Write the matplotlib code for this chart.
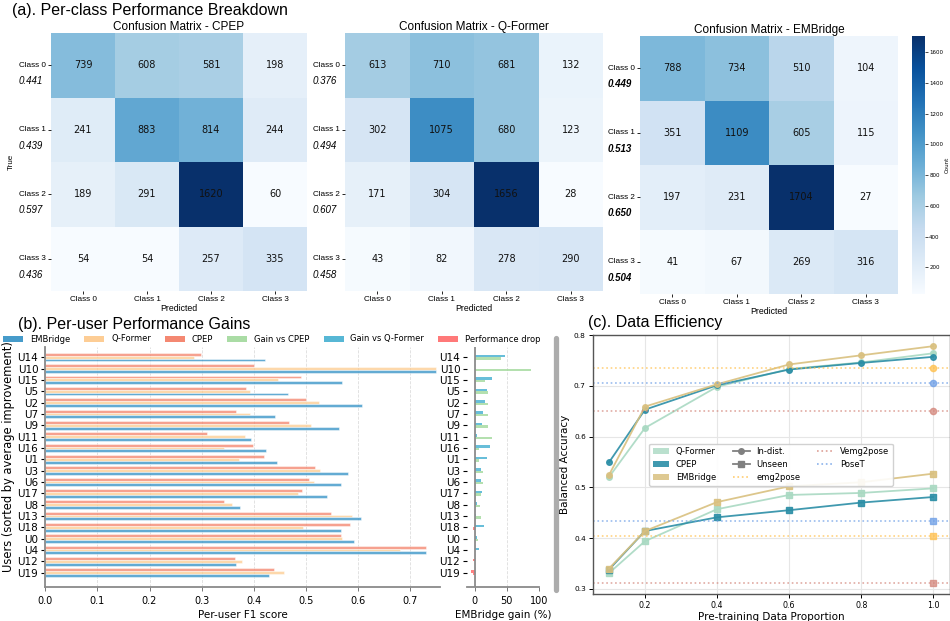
import numpy as np
import matplotlib
matplotlib.use('Agg')
import matplotlib.pyplot as plt
import seaborn as sns
from matplotlib.patches import Patch
from matplotlib.lines import Line2D

plt.rcParams['font.family'] = 'DejaVu Sans'
TITLE_FONT = 'Liberation Sans'

#================================
# (a) confusion matrices, rows = true class, cols = predicted class
classes = ['Class 0', 'Class 1', 'Class 2', 'Class 3']
cm_cpep = [[739, 608, 581, 198],
           [241, 883, 814, 244],
           [189, 291, 1620, 60],
           [54, 54, 257, 335]]
cm_qformer = [[613, 710, 681, 132],
              [302, 1075, 680, 123],
              [171, 304, 1656, 28],
              [43, 82, 278, 290]]
cm_embridge = [[788, 734, 510, 104],
               [351, 1109, 605, 115],
               [197, 231, 1704, 27],
               [41, 67, 269, 316]]
acc_cpep = [0.441, 0.439, 0.597, 0.436]
acc_qformer = [0.376, 0.494, 0.607, 0.458]
acc_embridge = [0.449, 0.513, 0.650, 0.504]

# (b) per-user F1, users sorted by average improvement
users = ['U14', 'U10', 'U15', 'U5', 'U2', 'U7', 'U9', 'U11', 'U16', 'U1',
         'U3', 'U6', 'U17', 'U8', 'U13', 'U18', 'U0', 'U4', 'U12', 'U19']
f1_cpep = [0.298, 0.400, 0.490, 0.386, 0.500, 0.366, 0.468, 0.310, 0.398, 0.419,
           0.517, 0.505, 0.493, 0.343, 0.548, 0.585, 0.567, 0.731, 0.364, 0.439]
f1_qformer = [0.286, 0.749, 0.447, 0.392, 0.525, 0.392, 0.510, 0.383, 0.343, 0.372,
              0.527, 0.516, 0.485, 0.359, 0.589, 0.495, 0.569, 0.681, 0.377, 0.457]
f1_embridge = [0.421, 0.749, 0.569, 0.465, 0.607, 0.441, 0.564, 0.395, 0.423, 0.444,
               0.581, 0.567, 0.540, 0.373, 0.605, 0.567, 0.592, 0.731, 0.366, 0.429]

# (c) data efficiency
proportions = [0.1, 0.2, 0.4, 0.6, 0.8, 1.0]
indist_qformer = [0.520, 0.617, 0.698, 0.733, 0.746, 0.764]
indist_cpep = [0.549, 0.653, 0.701, 0.732, 0.745, 0.757]
indist_embridge = [0.524, 0.659, 0.703, 0.742, 0.760, 0.778]
unseen_qformer = [0.331, 0.394, 0.457, 0.485, 0.489, 0.498]
unseen_cpep = [0.338, 0.414, 0.441, 0.455, 0.470, 0.481]
unseen_embridge = [0.340, 0.414, 0.471, 0.502, 0.510, 0.527]
baseline_names = ['emg2pose', 'Vemg2pose', 'PoseT']
baseline_indist = [0.735, 0.650, 0.705]
baseline_unseen = [0.405, 0.312, 0.434]

#================================
# colours
c_emb_bar, c_qf_bar, c_cpep_bar = '#3c96c8', '#fdcb8f', '#f4826a'
c_gain_cpep, c_gain_qf, c_drop = '#a1d99b', '#4eb3d3', '#ff6b6b'
c_qf_line, c_cpep_line, c_emb_line = '#a9d9c2', '#2b8ea6', '#d9c07f'
c_base = {'emg2pose': '#ffc04d', 'Vemg2pose': '#d4877c', 'PoseT': '#6d9ee6'}

W, H = 950, 621
fig = plt.figure(figsize=(W / 100, H / 100), dpi=100)


def px_axes(x0, y0, x1, y1):
    # axes from pixel box (top-left origin)
    return fig.add_axes([x0 / W, 1 - y1 / H, (x1 - x0) / W, (y1 - y0) / H])


#================================
# (a) Per-class breakdown
fig.text(12 / W, 1 - 10 / H, '(a). Per-class Performance Breakdown',
         fontsize=11.5, family=TITLE_FONT, ha='left', va='center')

cm_axes = [px_axes(51, 33, 307, 291), px_axes(345, 33, 603, 291), px_axes(640, 36, 898, 294)]
cax = px_axes(912, 36, 925, 294)
matrices = [cm_cpep, cm_qformer, cm_embridge]
accs = [acc_cpep, acc_qformer, acc_embridge]
names = ['CPEP', 'Q-Former', 'EMBridge']

for i, ax in enumerate(cm_axes):
    last = i == 2
    sns.heatmap(np.array(matrices[i]), annot=True, fmt='d', cmap='Blues', ax=ax,
                cbar=last, cbar_ax=cax if last else None,
                annot_kws={'size': 7, 'color': '#111111'},
                xticklabels=classes, yticklabels=classes)
    ax.set_title(f'Confusion Matrix - {names[i]}', fontsize=8.5, family=TITLE_FONT, pad=1.5)
    ax.set_xticklabels(classes, fontsize=5.9, family=TITLE_FONT, rotation=0)
    ax.set_yticklabels(classes, fontsize=5.9, family=TITLE_FONT, rotation=0)
    ax.tick_params(length=2, width=0.6, pad=1.5)
    ax.set_xlabel('Predicted', fontsize=6.3, family=TITLE_FONT, labelpad=1)
    if i == 0:
        ax.set_ylabel('True', fontsize=5.8, family=TITLE_FONT)
        ax.yaxis.set_label_coords(-0.143, 0.5)
    # per-class score under each row label
    for r, a in enumerate(accs[i]):
        ax.text(-0.12, r + 0.75, f'{a:.3f}', ha='right', va='center', fontsize=7,
                style='italic', family=TITLE_FONT, weight='bold' if last else 'normal')

cax.tick_params(labelsize=4, length=2, width=0.5, pad=1)
cax.set_ylabel('Count', fontsize=4, labelpad=1)

#================================
# (b) Per-user gains
fig.text(18 / W, 1 - 324 / H, '(b). Per-user Performance Gains',
         fontsize=11.5, family=TITLE_FONT, ha='left', va='center')

ax_b = px_axes(45.3, 347, 440, 586.7)
y = np.arange(len(users))
h = 0.25
ax_b.barh(y - h, f1_cpep, height=h, color=c_cpep_bar, alpha=0.75, edgecolor='white', linewidth=0.4)
ax_b.barh(y, f1_qformer, height=h, color=c_qf_bar, alpha=0.75, edgecolor='white', linewidth=0.4)
ax_b.barh(y + h, f1_embridge, height=h, color=c_emb_bar, alpha=0.8, edgecolor='white', linewidth=0.4)
ax_b.set_yticks(y)
ax_b.set_yticklabels(users, fontsize=7.5)
ax_b.set_ylim(20.23, -0.9)
ax_b.set_xlim(0, max(max(f1_embridge), max(f1_qformer), max(f1_cpep)) * 1.011)
ax_b.set_xticks(np.arange(0, 0.75, 0.1))
ax_b.tick_params(axis='x', labelsize=7, length=3, width=0.7, color='#777777')
ax_b.tick_params(axis='y', length=3, width=0.8, pad=2)
ax_b.set_xlabel('Per-user F1 score', fontsize=7.5, labelpad=3)
ax_b.set_ylabel('Users (sorted by average improvement)', fontsize=8.3)
ax_b.yaxis.set_label_coords(-0.078, 0.545)
ax_b.grid(axis='x', linestyle='--', color='#dddddd', linewidth=0.6)
ax_b.set_axisbelow(True)
for s in ['top', 'right']:
    ax_b.spines[s].set_visible(False)
for s in ['left', 'bottom']:
    ax_b.spines[s].set_color('#8a8a8a')
    ax_b.spines[s].set_linewidth(1.3)

# relative gain of EMBridge over each baseline
emb = np.array(f1_embridge)
gain_cpep = (emb / np.array(f1_cpep) - 1) * 100
gain_qf = (emb / np.array(f1_qformer) - 1) * 100

ax_g = px_axes(467.3, 347, 539.0, 586.7)
gh = 0.22
ax_g.barh(y - gh / 2, gain_qf, height=gh,
          color=[c_drop if g < 0 else c_gain_qf for g in gain_qf], alpha=0.85)
ax_g.barh(y + gh / 2, gain_cpep, height=gh,
          color=[c_drop if g < 0 else c_gain_cpep for g in gain_cpep], alpha=0.8)
ax_g.axvline(0, color='#8c8c8c', linewidth=1.3)
ax_g.set_yticks(y)
ax_g.set_yticklabels(users, fontsize=7.5)
ax_g.set_ylim(20.23, -0.9)
ax_g.set_xlim(-11.5, 100)
ax_g.set_xticks([0, 50, 100])
ax_g.tick_params(axis='x', labelsize=7, length=3, width=0.7, color='#777777')
ax_g.tick_params(axis='y', length=3, width=0.8, pad=2)
ax_g.set_xlabel('EMBridge gain (%)', fontsize=7.5, labelpad=3)
ax_g.grid(axis='x', linestyle='--', color='#dddddd', linewidth=0.6)
ax_g.set_axisbelow(True)
for s in ['top', 'right', 'left']:
    ax_g.spines[s].set_visible(False)
ax_g.spines['bottom'].set_color('#8a8a8a')
ax_g.spines['bottom'].set_linewidth(1.3)

# separator between (b) and (c)
fig.add_artist(Line2D([556 / W, 556 / W], [1 - 590 / H, 1 - 338 / H], color='#a3a3a3',
                      linewidth=3.8, solid_capstyle='round', alpha=0.9))

legend_b = [
    (Patch(facecolor=c_emb_bar, alpha=0.95), 'EMBridge'),
    (Patch(facecolor=c_qf_bar, alpha=0.95), 'Q-Former'),
    (Patch(facecolor=c_cpep_bar, alpha=0.95), 'CPEP'),
    (Patch(facecolor=c_gain_cpep, alpha=0.9), 'Gain vs CPEP'),
    (Patch(facecolor=c_gain_qf, alpha=0.95), 'Gain vs Q-Former'),
    (Patch(facecolor=c_drop, alpha=0.9), 'Performance drop'),
]
fig.legend([p for p, _ in legend_b], [t for _, t in legend_b], loc='center left',
           bbox_to_anchor=(0.0, 1 - 339 / H), ncol=6, frameon=False, fontsize=6,
           handlelength=2.4, columnspacing=1.7, borderaxespad=0, borderpad=0.4)

#================================
# (c) Data efficiency
fig.text(588 / W, 1 - 323 / H, '(c). Data Efficiency',
         fontsize=11.5, family=TITLE_FONT, ha='left', va='center')

ax_c = px_axes(592.7, 335, 949.5, 594)
models = [('Q-Former', c_qf_line, indist_qformer, unseen_qformer),
          ('CPEP', c_cpep_line, indist_cpep, unseen_cpep),
          ('EMBridge', c_emb_line, indist_embridge, unseen_embridge)]
for name, col, v_in, v_un in models:
    ax_c.plot(proportions, v_in, '-o', color=col, linewidth=1.3, markersize=4, alpha=0.9)
    ax_c.plot(proportions, v_un, '-s', color=col, linewidth=1.3, markersize=4, alpha=0.9)

for name, v_in, v_un in zip(baseline_names, baseline_indist, baseline_unseen):
    col = c_base[name]
    ax_c.axhline(v_in, color=col, linestyle=':', linewidth=1.2, alpha=0.7)
    ax_c.axhline(v_un, color=col, linestyle=':', linewidth=1.2, alpha=0.7)
    ax_c.plot(proportions[-1], v_in, 'o', color=col, markersize=4.5, alpha=0.75)
    ax_c.plot(proportions[-1], v_un, 's', color=col, markersize=4.5, alpha=0.75)

ax_c.set_xlim(0.055, 1.045)
ax_c.set_ylim(0.29, 0.80)
ax_c.set_xticks([0.2, 0.4, 0.6, 0.8, 1.0])
ax_c.set_yticks([0.3, 0.4, 0.5, 0.6, 0.7, 0.8])
ax_c.tick_params(axis='x', labelsize=5.7, length=3, width=0.7, pad=2)
ax_c.tick_params(axis='y', labelsize=5.3, length=3, width=0.7, pad=2)
ax_c.set_xlabel('Pre-training Data Proportion', fontsize=7.5, labelpad=1.5)
ax_c.set_ylabel('Balanced Accuracy', fontsize=7.5, labelpad=3)
ax_c.grid(True, color='#e6e6e6', linewidth=0.8)
ax_c.set_axisbelow(True)
for s in ax_c.spines.values():
    s.set_color('#555555')
    s.set_linewidth(1.0)

legend_c = [
    (Patch(facecolor=c_qf_line, alpha=0.8), 'Q-Former'),
    (Patch(facecolor=c_cpep_line, alpha=0.9), 'CPEP'),
    (Patch(facecolor=c_emb_line, alpha=0.85), 'EMBridge'),
    (Line2D([], [], color='#808080', marker='o', linewidth=1.3, markersize=4), 'In-dist.'),
    (Line2D([], [], color='#808080', marker='s', linewidth=1.3, markersize=4), 'Unseen'),
    (Line2D([], [], color=c_base['emg2pose'], linestyle=':', linewidth=1.2, alpha=0.8), 'emg2pose'),
    (Line2D([], [], color=c_base['Vemg2pose'], linestyle=':', linewidth=1.2, alpha=0.8), 'Vemg2pose'),
    (Line2D([], [], color=c_base['PoseT'], linestyle=':', linewidth=1.2, alpha=0.8), 'PoseT'),
]
ax_c.legend([p for p, _ in legend_c], [t for _, t in legend_c], loc='center', ncol=3,
            fontsize=6, framealpha=0.9)

fig.savefig('out.png', dpi=100)
